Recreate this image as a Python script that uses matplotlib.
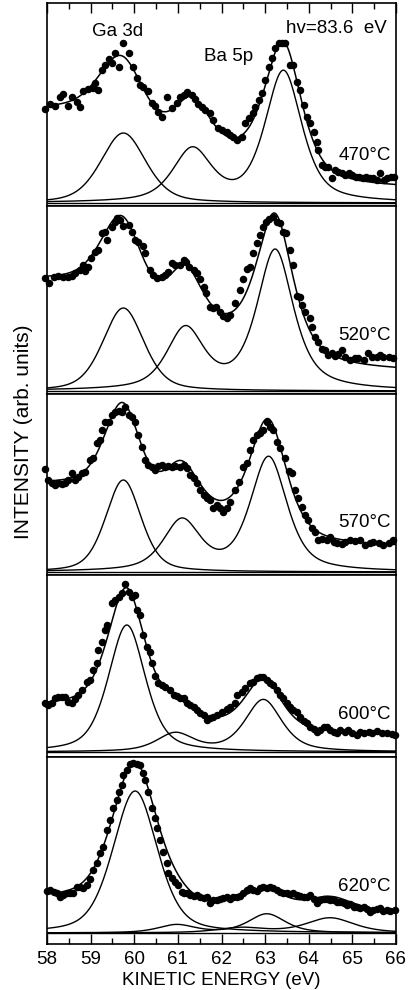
import numpy as np
import matplotlib.pyplot as plt

plt.rcParams['font.family'] = ['Liberation Sans', 'DejaVu Sans']

# measured spectra, kinetic energy (eV) vs intensity (arb. units)
temps = ["470°C", "520°C", "570°C", "600°C", "620°C"]

e_470 = [57.95, 58.07, 58.18, 58.30, 58.37, 58.47, 58.57, 58.68, 58.76, 58.83,
         58.95, 59.06, 59.10, 59.18, 59.25, 59.33, 59.41, 59.48, 59.56, 59.64,
         59.75, 59.87, 59.98, 60.06, 60.13, 60.21, 60.32, 60.40, 60.48, 60.55,
         60.63, 60.74, 60.86, 60.97, 61.05, 61.13, 61.20, 61.32, 61.39, 61.47,
         61.55, 61.62, 61.74, 61.81, 61.93, 62.01, 62.12, 62.20, 62.27, 62.35,
         62.46, 62.54, 62.62, 62.72, 62.77, 62.85, 62.92, 63.00, 63.08, 63.15,
         63.23, 63.31, 63.38, 63.46, 63.57, 63.65, 63.73, 63.80, 63.88, 63.96,
         64.03, 64.11, 64.18, 64.22, 64.30, 64.38, 64.45, 64.53, 64.61, 64.68,
         64.76, 64.84, 64.92, 65.00, 65.08, 65.16, 65.24, 65.32, 65.40, 65.48,
         65.56, 65.64, 65.72, 65.80, 65.88, 65.96]
i_470 = [94, 99, 97, 106, 109, 97, 106, 101, 96, 112,
         114, 115, 120, 113, 133, 138, 144, 140, 150, 136,
         160, 150, 136, 125, 118, 116, 112, 100, 97, 91,
         86, 106, 95, 100, 106, 108, 111, 108, 104, 99,
         96, 93, 90, 83, 75, 73, 71, 68, 66, 63,
         66, 80, 85, 90, 96, 103, 110, 123, 136, 145,
         155, 160, 160, 160, 138, 138, 121, 113, 98, 86,
         80, 71, 61, 53, 38, 36, 36, 25, 33, 31,
         30, 28, 30, 28, 26, 26, 25, 26, 25, 25,
         23, 30, 23, 25, 26, 26]

e_520 = [57.95, 58.05, 58.15, 58.26, 58.37, 58.49, 58.57, 58.64, 58.76, 58.83,
         58.87, 58.95, 59.02, 59.10, 59.18, 59.25, 59.33, 59.38, 59.48, 59.56,
         59.61, 59.67, 59.75, 59.87, 59.94, 60.02, 60.09, 60.21, 60.25, 60.35,
         60.44, 60.52, 60.63, 60.71, 60.78, 60.86, 60.94, 61.04, 61.13, 61.19,
         61.26, 61.36, 61.43, 61.51, 61.59, 61.65, 61.74, 61.80, 61.88, 61.97,
         62.03, 62.12, 62.20, 62.31, 62.43, 62.50, 62.58, 62.66, 62.72, 62.81,
         62.89, 62.96, 63.02, 63.10, 63.19, 63.27, 63.34, 63.42, 63.48, 63.56,
         63.65, 63.73, 63.79, 63.84, 63.92, 64.02, 64.07, 64.15, 64.22, 64.30,
         64.38, 64.45, 64.53, 64.61, 64.68, 64.76, 64.83, 64.95, 65.06, 65.14,
         65.26, 65.35, 65.45, 65.56, 65.64, 65.71, 65.83, 65.94]
i_520 = [113, 108, 114, 115, 114, 114, 115, 118, 121, 126,
         120, 124, 133, 139, 141, 158, 159, 151, 164, 169,
         173, 171, 165, 166, 159, 151, 149, 145, 138, 121,
         116, 113, 114, 116, 119, 128, 126, 126, 131, 129,
         124, 121, 118, 112, 104, 98, 84, 83, 84, 79,
         75, 73, 76, 88, 101, 112, 122, 124, 138, 148,
         156, 164, 169, 172, 174, 169, 168, 159, 158, 141,
         126, 95, 94, 86, 79, 73, 64, 54, 49, 42,
         41, 36, 38, 35, 37, 41, 34, 31, 33, 33,
         31, 38, 34, 34, 36, 34, 34, 33]

e_570 = [57.95, 58.03, 58.11, 58.18, 58.26, 58.34, 58.41, 58.49, 58.57, 58.64,
         58.72, 58.80, 58.87, 58.99, 59.06, 59.14, 59.22, 59.25, 59.33, 59.41,
         59.48, 59.56, 59.64, 59.71, 59.79, 59.87, 59.94, 60.02, 60.09, 60.17,
         60.25, 60.32, 60.40, 60.48, 60.55, 60.63, 60.71, 60.78, 60.86, 60.94,
         61.05, 61.13, 61.20, 61.28, 61.36, 61.43, 61.51, 61.59, 61.66, 61.74,
         61.81, 61.89, 61.97, 62.04, 62.12, 62.20, 62.31, 62.39, 62.50, 62.58,
         62.66, 62.72, 62.81, 62.89, 62.96, 63.04, 63.11, 63.19, 63.27, 63.34,
         63.46, 63.54, 63.61, 63.69, 63.76, 63.84, 63.92, 63.99, 64.07, 64.15,
         64.22, 64.30, 64.41, 64.49, 64.57, 64.64, 64.76, 64.83, 64.95, 65.06,
         65.18, 65.29, 65.41, 65.48, 65.60, 65.71, 65.83, 65.94]
i_570 = [103, 92, 89, 87, 89, 88, 89, 92, 99, 92,
         95, 99, 100, 112, 114, 129, 132, 142, 150, 150,
         157, 160, 161, 160, 165, 157, 155, 150, 137, 125,
         112, 107, 105, 102, 106, 107, 105, 106, 105, 106,
         105, 107, 104, 97, 94, 89, 82, 77, 74, 72,
         64, 67, 64, 60, 64, 70, 82, 90, 105, 109,
         122, 132, 137, 139, 142, 150, 145, 142, 130, 124,
         114, 101, 99, 82, 74, 65, 57, 52, 44, 40,
         32, 33, 32, 35, 30, 29, 28, 30, 32, 31,
         32, 27, 29, 30, 29, 27, 29, 32]

e_600 = [57.95, 58.03, 58.11, 58.18, 58.26, 58.34, 58.41, 58.49, 58.57, 58.64,
         58.72, 58.80, 58.91, 58.99, 59.06, 59.14, 59.18, 59.25, 59.33, 59.38,
         59.48, 59.56, 59.64, 59.71, 59.79, 59.87, 59.94, 60.02, 60.06, 60.13,
         60.21, 60.29, 60.36, 60.40, 60.48, 60.55, 60.63, 60.71, 60.82, 60.90,
         60.97, 61.05, 61.13, 61.20, 61.28, 61.36, 61.43, 61.51, 61.59, 61.66,
         61.74, 61.81, 61.89, 62.01, 62.12, 62.20, 62.31, 62.35, 62.46, 62.54,
         62.66, 62.73, 62.81, 62.89, 62.96, 63.04, 63.11, 63.19, 63.27, 63.34,
         63.42, 63.50, 63.57, 63.65, 63.73, 63.80, 63.88, 63.96, 64.03, 64.11,
         64.19, 64.26, 64.34, 64.41, 64.49, 64.57, 64.64, 64.72, 64.83, 64.91,
         64.99, 65.10, 65.18, 65.26, 65.37, 65.45, 65.56, 65.68, 65.79, 65.91,
         65.98]
i_600 = [49, 47, 49, 54, 55, 55, 55, 50, 49, 53,
         57, 62, 70, 72, 82, 89, 102, 110, 122, 127,
         149, 152, 155, 159, 168, 160, 155, 157, 142, 137,
         117, 105, 100, 89, 76, 69, 67, 65, 62, 57,
         56, 54, 54, 49, 47, 45, 42, 39, 37, 32,
         34, 35, 37, 40, 43, 45, 49, 57, 60, 64,
         69, 70, 74, 75, 75, 72, 69, 67, 62, 57,
         54, 49, 45, 42, 40, 35, 31, 29, 25, 23,
         20, 22, 25, 25, 22, 20, 19, 22, 20, 22,
         19, 17, 20, 19, 20, 19, 21, 19, 19, 18,
         17]

e_620 = [57.99, 58.07, 58.15, 58.22, 58.30, 58.37, 58.45, 58.53, 58.60, 58.68,
         58.76, 58.83, 58.91, 58.99, 59.06, 59.14, 59.22, 59.29, 59.37, 59.44,
         59.52, 59.60, 59.64, 59.71, 59.75, 59.83, 59.90, 59.98, 60.06, 60.13,
         60.21, 60.25, 60.32, 60.40, 60.48, 60.52, 60.59, 60.67, 60.74, 60.78,
         60.86, 60.94, 61.01, 61.09, 61.13, 61.20, 61.28, 61.36, 61.43, 61.51,
         61.59, 61.66, 61.74, 61.81, 61.89, 61.97, 62.04, 62.12, 62.20, 62.27,
         62.35, 62.43, 62.50, 62.58, 62.66, 62.73, 62.81, 62.89, 62.96, 63.04,
         63.11, 63.19, 63.27, 63.34, 63.42, 63.50, 63.57, 63.65, 63.73, 63.80,
         63.88, 63.96, 64.03, 64.11, 64.18, 64.26, 64.34, 64.41, 64.49, 64.57,
         64.64, 64.72, 64.80, 64.87, 64.95, 65.03, 65.10, 65.18, 65.26, 65.33,
         65.41, 65.48, 65.56, 65.64, 65.71, 65.79, 65.87, 65.98]
i_620 = [42, 43, 41, 40, 36, 38, 40, 40, 40, 46,
         46, 45, 48, 54, 63, 70, 80, 86, 103, 113,
         125, 133, 141, 148, 158, 163, 169, 170, 169, 168,
         160, 153, 141, 125, 115, 105, 93, 81, 70, 60,
         55, 51, 48, 41, 40, 40, 38, 37, 38, 36,
         35, 36, 30, 33, 33, 34, 35, 36, 34, 36,
         36, 37, 40, 43, 45, 43, 42, 45, 46, 45,
         46, 45, 43, 41, 40, 40, 39, 40, 38, 37,
         36, 36, 38, 34, 30, 33, 34, 34, 33, 33,
         31, 31, 30, 28, 29, 26, 26, 25, 26, 24,
         21, 23, 24, 25, 22, 23, 22, 23]

# fitted components: (center eV, height, FWHM eV, lorentzian fraction)
ga_470 = [(59.75, 70, 1.22, 0.4)]
ba_470 = [(61.33, 52, 1.05, 0.6), (63.42, 131, 1.0, 0.6)]
ga_520 = [(59.75, 83, 1.11, 0.4)]
ba_520 = [(61.17, 60, 1.0, 0.6), (63.23, 140, 1.0, 0.7)]
ga_570 = [(59.75, 92, 0.96, 0.4)]
ba_570 = [(61.09, 50, 1.0, 0.6), (63.08, 114, 1.0, 0.6)]
ga_600 = [(59.83, 127, 1.0, 0.5)]
ba_600 = [(60.94, 18, 1.0, 0.6), (62.96, 52, 1.0, 0.6)]
ga_620 = [(60.02, 142, 1.2, 0.4)]
ba_620 = [(60.97, 8, 1.0, 0.6), (63.04, 19, 1.0, 0.6)]
ba2_620 = [(62.45, 5, 1.3, 0.6), (64.49, 15, 1.3, 0.6)]

# inelastic background: level at the high-energy end, then the step under each component
bg_470 = (15, [43, 35])
bg_520 = (20, [50, 40])
bg_570 = (25, [30, 32])
bg_600 = (17, [22, 6])
bg_620 = (19, [15, 0, 0])

# vertical extent of each panel (below / above the zero line)
ylims = [(-3, 200), (-3, 185), (-3, 178), (-5, 177), (-11, 176)]
label_y = [0.25, 0.31, 0.29, 0.235, 0.31]


def peak(x, comps):
    y = np.zeros_like(x)
    for c, h, w, eta in comps:
        g = np.exp(-4 * np.log(2) * ((x - c) / w) ** 2)
        l = 1 / (1 + 4 * ((x - c) / w) ** 2)
        y += h * ((1 - eta) * g + eta * l)
    return y


def step(y):
    # fraction of the component's area lying above each energy
    area = np.cumsum(y[::-1])[::-1]
    return area / area[0]


def main():
    panels = [
        (e_470, i_470, [ga_470, ba_470], bg_470),
        (e_520, i_520, [ga_520, ba_520], bg_520),
        (e_570, i_570, [ga_570, ba_570], bg_570),
        (e_600, i_600, [ga_600, ba_600], bg_600),
        (e_620, i_620, [ga_620, ba_620, ba2_620], bg_620),
    ]

    fig = plt.figure(figsize=(4.1, 9.9), dpi=100)
    gs = fig.add_gridspec(5, 1, height_ratios=[203, 188, 181, 182, 187], hspace=0,
                          left=47/410, right=396/410, top=1-3/990, bottom=1-944/990)
    x = np.linspace(58, 66, 600)

    for k, (e, inten, comps, bg) in enumerate(panels):
        ax = fig.add_subplot(gs[k])
        curves = [peak(x, c) for c in comps]
        back = bg[0] + sum(s * step(c) for s, c in zip(bg[1], curves))
        fit = sum(curves) + back

        ax.axhline(0, color='k', lw=1.0)
        for c in curves:
            ax.plot(x, c, color='k', lw=1.0)
        ax.plot(x, fit, color='k', lw=1.1)
        ax.plot(e, inten, 'o', color='k', ms=4.4, clip_on=False)

        ax.set_xlim(58, 66)
        ax.set_ylim(*ylims[k])
        ax.set_yticks([])
        ax.set_xticks(np.arange(58, 67, 1))
        ax.set_xticks(np.arange(58.5, 66, 1), minor=True)
        ax.tick_params(axis='x', which='both', direction='in', width=1.0,
                       top=(k == 0), bottom=(k == 4), labelbottom=(k == 4),
                       labelsize=13.5, pad=5)
        ax.tick_params(axis='x', which='major', length=7)
        ax.tick_params(axis='x', which='minor', length=4)
        for s in ax.spines.values():
            s.set_linewidth(1.2)

        ax.text(0.985, label_y[k], temps[k], transform=ax.transAxes,
                ha='right', va='center', fontsize=13.5)

        if k == 0:
            ax.text(0.203, 0.862, "Ga 3d", transform=ax.transAxes,
                    ha='center', va='center', fontsize=13.5)
            ax.text(0.519, 0.734, "Ba 5p", transform=ax.transAxes,
                    ha='center', va='center', fontsize=13.5)
            ax.text(0.974, 0.872, "hv=83.6  eV", transform=ax.transAxes,
                    ha='right', va='center', fontsize=13.5)
        if k == 4:
            ax.set_xlabel("KINETIC ENERGY (eV)", fontsize=13.5, labelpad=3)

    fig.text(24/410, 1 - 432/990, "INTENSITY (arb. units)", rotation=90,
             ha='center', va='center', fontsize=15)

    fig.savefig("out.png")


if __name__ == "__main__":
    main()
